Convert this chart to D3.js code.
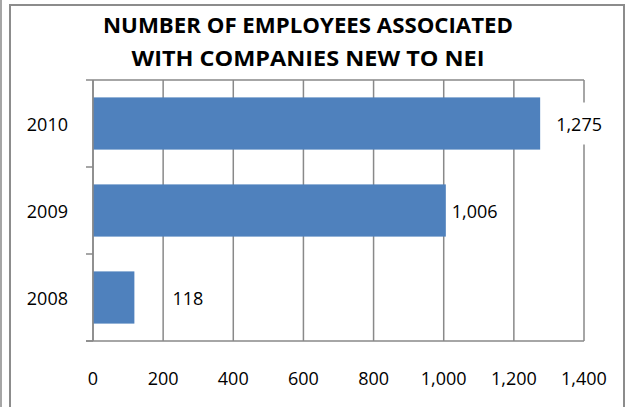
<!DOCTYPE html>
<html>
<head>
<meta charset="utf-8">
<script src="https://cdn.jsdelivr.net/npm/d3@7"></script>
<style>
html,body{margin:0;padding:0;background:#fff;}
svg{display:block;}
text{font-family:"Open Sans","Noto Sans",sans-serif;fill:#000;}
</style>
</head>
<body>
<svg id="chart" width="627" height="407"></svg>
<script>
// ---- data ----
const categories = ["2010", "2009", "2008"];
const values = [1275, 1006, 118];
const xTicks = [0, 200, 400, 600, 800, 1000, 1200, 1400];
const titleLines = ["NUMBER OF EMPLOYEES ASSOCIATED", "WITH COMPANIES NEW TO NEI"];

// ---- layout ----
const W = 627, H = 407;
const plot = {left: 93, right: 584, top: 80, bottom: 341};
const labelOffsets = {"2010": 16, "2009": 6, "2008": 38};
const barColor = "#4F81BD";
const gridColor = "#898989";

const svg = d3.select("#chart");

// left edge strip & chart border
svg.append("rect").attr("x", 0).attr("y", 0).attr("width", 2).attr("height", H).attr("fill", "#a6a6a6");
svg.append("rect").attr("x", 10).attr("y", 5).attr("width", 614).attr("height", H + 10)
  .attr("fill", "#fff").attr("stroke", "#8c8c8c").attr("stroke-width", 2);

const x = d3.scaleLinear().domain([0, 1400]).range([plot.left, plot.right]);
const y = d3.scaleBand().domain(categories).range([plot.top, plot.bottom]).paddingInner(0.4).paddingOuter(0.2);

// title
const title = svg.append("g");
titleLines.forEach((t, i) => {
  title.append("text").attr("x", 308).attr("y", 33 + i * 33)
    .attr("text-anchor", "middle").attr("font-weight", "bold").attr("font-size", 21)
    .attr("textLength", i === 0 ? 410 : 353).attr("lengthAdjust", "spacingAndGlyphs")
    .text(t);
});

// gridlines (vertical)
svg.append("g").selectAll("line").data(xTicks).join("line")
  .attr("x1", d => x(d)).attr("x2", d => x(d))
  .attr("y1", plot.top).attr("y2", plot.bottom)
  .attr("stroke", gridColor).attr("stroke-width", 1.5);
// plot top border
svg.append("line").attr("x1", plot.left).attr("x2", plot.right).attr("y1", plot.top).attr("y2", plot.top)
  .attr("stroke", gridColor).attr("stroke-width", 1.5);

// bars
svg.append("g").selectAll("rect").data(categories).join("rect")
  .attr("x", x(0)).attr("y", d => y(d))
  .attr("width", (d, i) => x(values[i]) - x(0))
  .attr("height", y.bandwidth())
  .attr("fill", barColor);

// axes lines
svg.append("line").attr("x1", plot.left).attr("x2", plot.left).attr("y1", plot.top).attr("y2", plot.bottom)
  .attr("stroke", gridColor).attr("stroke-width", 1.5);
svg.append("line").attr("x1", plot.left - 7).attr("x2", plot.right).attr("y1", plot.bottom).attr("y2", plot.bottom)
  .attr("stroke", gridColor).attr("stroke-width", 1.5);
// category tick marks at band boundaries
const step = y.step();
const boundaries = d3.range(categories.length + 1).map(i => plot.top + i * (plot.bottom - plot.top) / categories.length);
svg.append("g").selectAll("line").data(boundaries).join("line")
  .attr("x1", plot.left - 7).attr("x2", plot.left).attr("y1", d => d).attr("y2", d => d)
  .attr("stroke", gridColor).attr("stroke-width", 1.5);

// category labels
svg.append("g").selectAll("text").data(categories).join("text")
  .attr("x", 68).attr("y", d => y(d) + y.bandwidth() / 2)
  .attr("text-anchor", "end").attr("dominant-baseline", "central").attr("font-size", 18)
  .text(d => d);

// x tick labels
const fmt = d3.format(",");
svg.append("g").selectAll("text").data(xTicks).join("text")
  .attr("x", d => x(d)).attr("y", 378)
  .attr("text-anchor", "middle").attr("dominant-baseline", "central").attr("font-size", 18)
  .text(d => fmt(d));

// value labels
const vl = svg.append("g");
categories.forEach((c, i) => {
  const lx = x(values[i]) + labelOffsets[c];
  const cy = y(c) + y.bandwidth() / 2;
  const t = vl.append("text").attr("x", lx).attr("y", cy)
    .attr("dominant-baseline", "central").attr("font-size", 18).text(fmt(values[i]));
  const bb = t.node().getBBox();
  vl.insert("rect", () => t.node())
    .attr("x", bb.x - 6).attr("y", cy - 21).attr("width", bb.width + 12).attr("height", 42)
    .attr("fill", "#fff").attr("fill-opacity", c === "2010" ? 1 : 0);
});
</script>
</body>
</html>
